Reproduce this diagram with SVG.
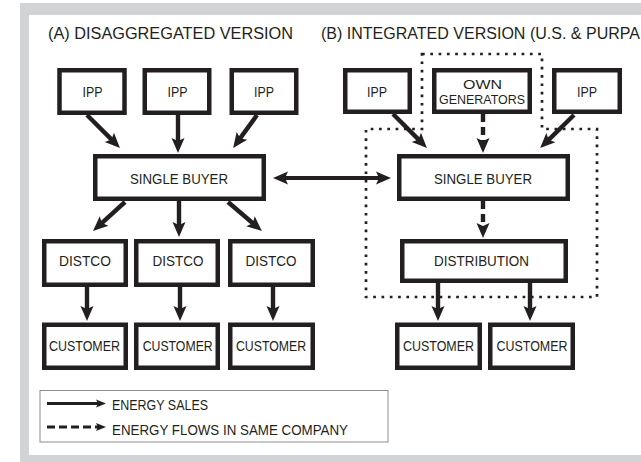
<svg xmlns="http://www.w3.org/2000/svg" width="641" height="462" viewBox="0 0 641 462">
  <defs>
    <style>
      .frame { fill: #d1d3d4; }
      .panel { fill: #ffffff; }
      .box { fill: #ffffff; stroke: #231f20; stroke-width: 4.5; }
      .lbl { font-family: "Liberation Sans", Arial, sans-serif; font-size: 15.5px; fill: #231f20; text-anchor: middle; }
      .lbl2 { font-size: 13px; }
      .title { font-family: "Liberation Sans", Arial, sans-serif; font-size: 16px; fill: #231f20; }
      .legtxt { font-family: "Liberation Sans", Arial, sans-serif; font-size: 15px; fill: #231f20; }
      .sale { fill: none; stroke: #231f20; stroke-width: 4.4; marker-end: url(#head); }
      .flow { fill: none; stroke: #231f20; stroke-width: 4.4; stroke-dasharray: 8 5; marker-end: url(#head); }
      .both { fill: none; stroke: #231f20; stroke-width: 4; marker-start: url(#headStart); marker-end: url(#head); }
      .company { fill: none; stroke: #231f20; stroke-width: 2.7; stroke-dasharray: 2.7 5.6; }
      .legbox { fill: #ffffff; stroke: #8c8c8c; stroke-width: 1; }
      .legsale { fill: none; stroke: #231f20; stroke-width: 3; marker-end: url(#smallHead); }
      .legflow { fill: none; stroke: #231f20; stroke-width: 3; stroke-dasharray: 8 4; marker-end: url(#smallHead); }
    </style>
    <marker id="head" markerUnits="userSpaceOnUse" markerWidth="15" markerHeight="13" refX="5" refY="6.5" orient="auto" overflow="visible">
      <path d="M0,0 L15,6.5 L0,13 L3,6.5 z" fill="#231f20"/>
    </marker>
    <marker id="headStart" markerUnits="userSpaceOnUse" markerWidth="15" markerHeight="13" refX="5" refY="6.5" orient="auto-start-reverse" overflow="visible">
      <path d="M0,0 L15,6.5 L0,13 L3,6.5 z" fill="#231f20"/>
    </marker>
    <marker id="smallHead" markerUnits="userSpaceOnUse" markerWidth="10" markerHeight="8" refX="3" refY="4" orient="auto" overflow="visible">
      <path d="M0,0 L10,4 L0,8 L2,4 z" fill="#231f20"/>
    </marker>
  </defs>

  <!-- page frame -->
  <rect class="frame" x="20" y="3" width="640" height="470"/>
  <rect class="panel" x="29" y="15" width="630" height="440"/>

  <!-- headings -->
  <text class="title" x="48" y="39" textLength="245" lengthAdjust="spacingAndGlyphs">(A) DISAGGREGATED VERSION</text>
  <text class="title" x="321" y="39" textLength="319" lengthAdjust="spacingAndGlyphs">(B) INTEGRATED VERSION (U.S. &amp; PURPA</text>

  <!-- same-company boundary -->
  <path class="company" d="M422,54 L542,54 L542,129 L597,129 L597,297 L366,297 L366,129 L422,129 Z"/>

  <!-- connectors -->
  <g id="connectors">
    <!-- (A) generators to single buyer -->
    <line class="sale" x1="87" y1="115" x2="112.9" y2="140.9"/>
    <line class="sale" x1="178" y1="115" x2="178" y2="143"/>
    <line class="sale" x1="257" y1="115" x2="239.0" y2="139.9"/>
    <!-- (A) single buyer to distcos -->
    <line class="sale" x1="125" y1="202" x2="100.4" y2="224.3"/>
    <line class="sale" x1="179" y1="201" x2="179" y2="227"/>
    <line class="sale" x1="228" y1="202" x2="254.3" y2="224.5"/>
    <!-- (A) distcos to customers -->
    <line class="sale" x1="87" y1="287" x2="87" y2="311"/>
    <line class="sale" x1="180" y1="287" x2="180" y2="311"/>
    <line class="sale" x1="273" y1="287" x2="273" y2="311"/>
    <!-- trade between the two single buyers -->
    <line class="both" x1="283" y1="178" x2="381" y2="178"/>
    <!-- (B) generators to single buyer -->
    <line class="sale" x1="393" y1="114" x2="419.9" y2="140.9"/>
    <line class="flow" x1="483" y1="114" x2="483" y2="143"/>
    <line class="sale" x1="574" y1="115" x2="547.3" y2="141.1"/>
    <!-- (B) single buyer to distribution -->
    <line class="flow" x1="483" y1="201" x2="483" y2="228"/>
    <!-- (B) distribution to customers -->
    <line class="sale" x1="438" y1="283" x2="438" y2="311"/>
    <line class="sale" x1="530" y1="283" x2="530" y2="311"/>
  </g>

  <!-- (A) disaggregated nodes -->
  <g id="ipp-a1"><rect class="box" x="59.5" y="70.25" width="65" height="42.5"/><text class="lbl" x="92.5" y="97" textLength="20" lengthAdjust="spacingAndGlyphs">IPP</text></g>
  <g id="ipp-a2"><rect class="box" x="144.75" y="70.25" width="64.5" height="42.5"/><text class="lbl" x="177.5" y="97" textLength="20" lengthAdjust="spacingAndGlyphs">IPP</text></g>
  <g id="ipp-a3"><rect class="box" x="231.75" y="70.25" width="64.5" height="42.5"/><text class="lbl" x="264" y="97" textLength="20" lengthAdjust="spacingAndGlyphs">IPP</text></g>
  <g id="buyer-a"><rect class="box" x="95.25" y="156.25" width="168.5" height="42.5"/><text class="lbl" x="179" y="184" textLength="98" lengthAdjust="spacingAndGlyphs">SINGLE BUYER</text></g>
  <g id="distco-1"><rect class="box" x="44.25" y="241.25" width="81.5" height="43.5"/><text class="lbl" x="85" y="266" textLength="52" lengthAdjust="spacingAndGlyphs">DISTCO</text></g>
  <g id="distco-2"><rect class="box" x="136.25" y="241.25" width="81.5" height="43.5"/><text class="lbl" x="178" y="266" textLength="51" lengthAdjust="spacingAndGlyphs">DISTCO</text></g>
  <g id="distco-3"><rect class="box" x="230.25" y="241.25" width="82.5" height="43.5"/><text class="lbl" x="271" y="266" textLength="51" lengthAdjust="spacingAndGlyphs">DISTCO</text></g>
  <g id="customer-a1"><rect class="box" x="44.25" y="324.75" width="81.5" height="43"/><text class="lbl" x="84.5" y="350.5" textLength="71" lengthAdjust="spacingAndGlyphs">CUSTOMER</text></g>
  <g id="customer-a2"><rect class="box" x="136.25" y="324.75" width="81.5" height="43"/><text class="lbl" x="177.7" y="350.5" textLength="70" lengthAdjust="spacingAndGlyphs">CUSTOMER</text></g>
  <g id="customer-a3"><rect class="box" x="230.25" y="324.75" width="82.5" height="43"/><text class="lbl" x="271" y="350.5" textLength="70" lengthAdjust="spacingAndGlyphs">CUSTOMER</text></g>

  <!-- (B) integrated nodes -->
  <g id="ipp-b1"><rect class="box" x="345.25" y="70.25" width="64.5" height="41.5"/><text class="lbl" x="377" y="97" textLength="20" lengthAdjust="spacingAndGlyphs">IPP</text></g>
  <g id="own-generators"><rect class="box" x="434.25" y="70.25" width="95.5" height="41.5"/><text class="lbl lbl2" x="482.5" y="89" textLength="39" lengthAdjust="spacingAndGlyphs">OWN</text><text class="lbl lbl2" x="482" y="104" textLength="86" lengthAdjust="spacingAndGlyphs">GENERATORS</text></g>
  <g id="ipp-b3"><rect class="box" x="554.25" y="70.25" width="65.5" height="41.5"/><text class="lbl" x="587" y="97" textLength="20" lengthAdjust="spacingAndGlyphs">IPP</text></g>
  <g id="buyer-b"><rect class="box" x="399.25" y="156.25" width="168.5" height="42.5"/><text class="lbl" x="483" y="184" textLength="98" lengthAdjust="spacingAndGlyphs">SINGLE BUYER</text></g>
  <g id="distribution"><rect class="box" x="402.25" y="241.25" width="163.5" height="39.5"/><text class="lbl" x="481.5" y="266" textLength="95" lengthAdjust="spacingAndGlyphs">DISTRIBUTION</text></g>
  <g id="customer-b1"><rect class="box" x="397.25" y="324.75" width="82.5" height="43"/><text class="lbl" x="438.5" y="350.5" textLength="71" lengthAdjust="spacingAndGlyphs">CUSTOMER</text></g>
  <g id="customer-b2"><rect class="box" x="490.25" y="324.75" width="82.5" height="43"/><text class="lbl" x="532" y="350.5" textLength="71" lengthAdjust="spacingAndGlyphs">CUSTOMER</text></g>

  <!-- key -->
  <g id="legend">
    <rect class="legbox" x="40" y="390.5" width="348" height="51.5"/>
    <line class="legsale" x1="47" y1="403.5" x2="99" y2="403.5"/>
    <text class="legtxt" x="112" y="410" textLength="96" lengthAdjust="spacingAndGlyphs">ENERGY SALES</text>
    <line class="legflow" x1="47" y1="427" x2="99" y2="427"/>
    <text class="legtxt" x="112" y="434.5" textLength="236" lengthAdjust="spacingAndGlyphs">ENERGY FLOWS IN SAME COMPANY</text>
  </g>
</svg>
